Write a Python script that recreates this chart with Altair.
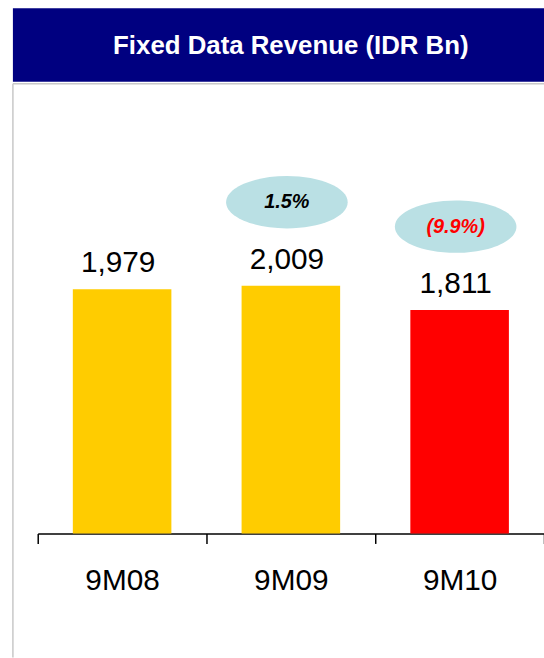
import altair as alt
import pandas as pd

# Fixed data revenue by nine-month period (IDR Bn)
periods = ["9M08", "9M09", "9M10"]
revenue = [1979, 2009, 1811]
growth = [None, 1.5, -9.9]          # year-on-year change, %
bar_colors = ["#FFCC00", "#FFCC00", "#FF0000"]
header_title = "Fixed Data Revenue (IDR Bn)"

FONT = "Liberation Sans"


def growth_label(g):
    if g is None:
        return ""
    return f"({abs(g):.1f}%)" if g < 0 else f"{g:.1f}%"


df = pd.DataFrame({
    "period": periods,
    "revenue": revenue,
    "growth": [g if g is not None else float("nan") for g in growth],
    "growth_label": [growth_label(g) for g in growth],
})

W, H = 510, 435

x_enc = alt.X(
    "period:N",
    sort=periods,
    scale=alt.Scale(paddingInner=0, paddingOuter=0),
    axis=alt.Axis(
        title=None, labelAngle=0, tickBand="extent",
        labelFont=FONT, labelFontSize=30, labelColor="black", labelPadding=22,
        domainColor="black", domainWidth=1.5,
        tickColor="black", tickWidth=1.5, tickSize=10,
        grid=False,
    ),
)
y_enc = alt.Y("revenue:Q", scale=alt.Scale(domain=[0, 3500]), axis=None)

base = alt.Chart(df).encode(x=x_enc, y=y_enc)

bars = base.mark_bar(width={"band": 0.584}).encode(
    color=alt.Color("period:N", scale=alt.Scale(domain=periods, range=bar_colors), legend=None)
)

values = base.mark_text(font=FONT, fontSize=30, dy=-17, dx=-4, baseline="alphabetic", color="black").encode(
    text=alt.Text("revenue:Q", format=",")
)

ellipse_path = "M -1 0 A 1 0.43 0 1 1 1 0 A 1 0.43 0 1 1 -1 0 Z"
has_growth = "isValid(datum.growth) && !isNaN(datum.growth)"
bubbles = base.transform_filter(has_growth).mark_point(
    shape=ellipse_path, size=15000, filled=True, opacity=1, color="#BAE0E4",
    yOffset=-84, xOffset=-4, strokeWidth=0,
)

growth_text = base.transform_filter(has_growth).mark_text(
    font=FONT, fontSize=20, fontStyle="italic", fontWeight="bold",
    dy=-84, dx=-4, baseline="middle",
).encode(
    text="growth_label:N",
    color=alt.condition("datum.growth < 0", alt.value("#FF0000"), alt.value("black")),
)

# Panel header and frame
hdr = alt.Data(values=[{"t": header_title}])
header_bg = alt.Chart(hdr).mark_rect(color="#000080").encode(
    x=alt.value(-25), x2=alt.value(530), y=alt.value(-94), y2=alt.value(-20)
)
header_txt = alt.Chart(hdr).mark_text(
    font=FONT, fontSize=26, fontWeight="bold", color="white", baseline="middle", align="center"
).encode(x=alt.value(255), y=alt.value(-56), text="t:N")
frame_top = alt.Chart(hdr).mark_rule(color="#C8C8C8", strokeWidth=1.5).encode(
    x=alt.value(-25), x2=alt.value(530), y=alt.value(-18)
)
frame_left = alt.Chart(hdr).mark_rule(color="#C8C8C8", strokeWidth=1.5).encode(
    x=alt.value(-25), y=alt.value(-18), y2=alt.value(560)
)

chart = alt.layer(
    header_bg, header_txt, frame_top, frame_left, bars, values, bubbles, growth_text
).properties(
    width=W, height=H,
    autosize=alt.AutoSizeParams(type="none"),
    padding={"left": 38, "top": 100, "right": 0, "bottom": 123},
    background="white",
).configure_view(stroke=None)

chart.save("out.html", embed_options={"renderer": "svg", "actions": False})
